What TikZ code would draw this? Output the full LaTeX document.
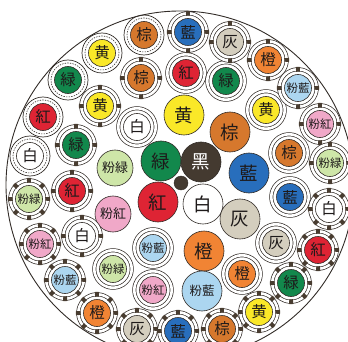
\documentclass[tikz,border=0pt]{standalone}
\usepackage{fontspec}
\newfontfamily\cjk{Noto Sans CJK JP}
\definecolor{wYel}{RGB}{250,232,40}
\definecolor{wBrn}{RGB}{214,120,45}
\definecolor{wBlu}{RGB}{40,110,188}
\definecolor{wGry}{RGB}{212,206,190}
\definecolor{wOrg}{RGB}{241,132,52}
\definecolor{wLbu}{RGB}{172,214,240}
\definecolor{wPnk}{RGB}{240,168,200}
\definecolor{wLgr}{RGB}{206,230,168}
\definecolor{wRed}{RGB}{222,36,52}
\definecolor{wGrn}{RGB}{18,136,76}
\definecolor{wWht}{RGB}{255,255,255}
\definecolor{wBlk}{RGB}{68,58,48}
\definecolor{wEdge}{RGB}{50,44,40}
\definecolor{wTab}{RGB}{72,60,48}
\definecolor{wInk}{RGB}{30,26,26}
\tikzset{
  core/.style={circle, draw=wEdge, line width=0.6pt, fill=#1, minimum size=27pt, inner sep=0pt, text=wInk},
  sheath/.style={circle, draw=wEdge, line width=0.7pt, double=white, double distance=2.6pt, minimum size=37.5pt, inner sep=0pt},
  tabs/.style={circle, draw=wTab, line width=4.8pt, minimum size=37.5pt, inner sep=0pt, dash pattern=on 4pt off #1, dash phase=2pt},
  rim/.style={circle, draw=wEdge, line width=0.7pt, minimum size=40pt, inner sep=0pt},
  dotrim/.style={circle, draw=wEdge, line width=0.6pt, minimum size=34pt, inner sep=0pt, dash pattern=on 1.4pt off 1.2pt}
}

\begin{document}
\begin{tikzpicture}[x=1pt, y=-1pt]
  \useasboundingbox (0,0) rectangle (348,342);
  \clip (0,0) rectangle (348,342);
  % Outer jacket
  \node[circle, draw=wEdge, line width=0.9pt, minimum size=348pt, inner sep=0pt] (cable) at (180,185) {};

  % Centre cores
  \foreach \id/\x/\y/\col/\txt/\fs in {
      yelA/184/115/wYel/黄/18.5, grnA/161/161/wGrn/緑/18.5, brnA/230/132/wBrn/棕/18.5,
      bluA/249/173/wBlu/藍/18.5, redA/158/202/wRed/紅/18.5, whtA/203/204/wWht/白/18.5,
      gryA/240/219/wGry/灰/18.5, orgA/204/251/wOrg/橙/18.5, lbuA/202/291/wLbu/粉藍/12.5}
    \node[core=\col, minimum size=40pt, font=\cjk\fontsize{\fs}{\fs}\selectfont] (\id) at (\x,\y) {\txt};
  \node[core=wBlk, minimum size=40pt, text=white, font=\cjk\fontsize{18.5}{18.5}\selectfont] (blkA) at (201,162) {黑};
  \node[core=wLgr, minimum size=36pt, font=\cjk\fontsize{13}{13}\selectfont] (lgrA) at (115,168) {粉緑};
  \node[core=wPnk, minimum size=36pt, font=\cjk\fontsize{13}{13}\selectfont] (pnkA) at (113,214) {粉紅};
  \node[circle, draw=wEdge, fill=wBlk, minimum size=14pt, inner sep=0pt] (filler) at (181,183) {};

  % Plain double sheath
  \foreach \id/\x/\y/\col/\txt/\fs in {
      redB/186/73/wRed/紅/15.5, grnB/226/81/wGrn/緑/15.5, whtB/137/127/wWht/白/15.5,
      yelB/266/110/wYel/黄/15.5, brnB/289/153/wBrn/棕/15.5, bluB/290/197/wBlu/藍/15.5,
      gryB/276/243/wGry/灰/15.5, orgB/242/274/wOrg/橙/15.5, lbuB/153/248/wLbu/粉藍/11.5,
      pnkB/153/290/wPnk/粉紅/11.5, lgrB/113/269/wLgr/粉緑/11.5} {
    \node[sheath] (\id-s) at (\x,\y) {};
    \node[core=\col, font=\cjk\fontsize{\fs}{\fs}\selectfont] (\id) at (\x,\y) {\txt};
  }

  % Sheath with four tabs
  \foreach \id/\x/\y/\col/\txt/\fs in {
      brnC/141/78/wBrn/棕/15.5, bluC/188/32/wBlu/藍/15.5, gryC/230/42/wGry/灰/15.5,
      orgC/268/60/wOrg/橙/15.5, lbuC/298/88/wLbu/粉藍/11.5, pnkC/320/124/wPnk/粉紅/11.5,
      lgrC/330/163/wLgr/粉緑/11.5, yelC/100/106/wYel/黄/15.5, grnC/76/145/wGrn/緑/15.5,
      redC/72/191/wRed/紅/15.5, whtC/82/236/wWht/白/15.5} {
    \node[sheath] (\id-s) at (\x,\y) {};
    \node[tabs=25.45pt] (\id-t) at (\x,\y) {};
    \node[core=\col, font=\cjk\fontsize{\fs}{\fs}\selectfont] (\id) at (\x,\y) {\txt};
  }

  % Sheath with dashed lining
  \foreach \id/\x/\y/\col/\txt in {
      yelD/102/53/wYel/黄, brnD/144/35/wBrn/棕, grnD/68/80/wGrn/緑,
      redD/43/117/wRed/紅, whtD/30/156/wWht/白} {
    \node[rim] (\id-s) at (\x,\y) {};
    \node[dotrim] (\id-t) at (\x,\y) {};
    \node[core=\col, font=\cjk\fontsize{15.5}{15.5}\selectfont] (\id) at (\x,\y) {\txt};
  }

  % Sheath with eight tabs
  \foreach \id/\x/\y/\col/\txt/\fs in {
      lgrE/29/199/wLgr/粉緑/11.5, pnkE/40/244/wPnk/粉紅/11.5, lbuE/65/280/wLbu/粉藍/11.5,
      orgE/97/313/wOrg/橙/15.5, gryE/137/329/wGry/灰/15.5, bluE/178/331/wBlu/藍/15.5,
      brnE/222/329/wBrn/棕/15.5, yelE/259/312/wYel/黄/15.5, grnE/291/283/wGrn/緑/15.5,
      redE/318/250/wRed/紅/15.5, whtE/329/209/wWht/白/15.5} {
    \node[sheath] (\id-s) at (\x,\y) {};
    \node[tabs=10.73pt] (\id-t) at (\x,\y) {};
    \node[core=\col, font=\cjk\fontsize{\fs}{\fs}\selectfont] (\id) at (\x,\y) {\txt};
  }
\end{tikzpicture}
\end{document}
